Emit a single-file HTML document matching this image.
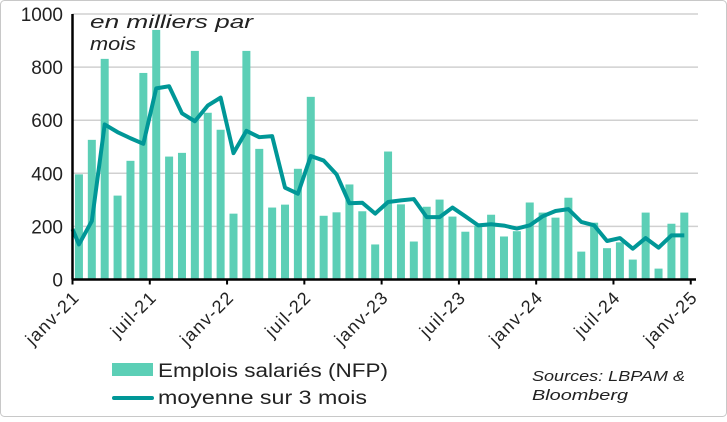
<!DOCTYPE html>
<html><head><meta charset="utf-8"><style>
body{margin:0;background:#fff}
svg text{font-family:"Liberation Sans",sans-serif;fill:#222}
</style></head><body>
<svg width="727" height="417" viewBox="0 0 727 417">
<rect x="0.5" y="0.5" width="726" height="416" rx="4" fill="#fff" stroke="#c8c8c8"/>
<g id="grid"></g><g id="bars"></g><g id="line"></g><g id="axes"></g>
<text x="90" y="28" font-size="18" font-style="italic" textLength="163" lengthAdjust="spacingAndGlyphs">en milliers par</text>
<text x="90" y="50" font-size="18" font-style="italic" textLength="46" lengthAdjust="spacingAndGlyphs">mois</text>
<rect x="112" y="363" width="41" height="13" fill="#5ccfb6"/>
<text x="158" y="377" font-size="19" textLength="230" lengthAdjust="spacingAndGlyphs">Emplois salariés (NFP)</text>
<line x1="114" y1="398" x2="152" y2="398" stroke="#009797" stroke-width="4" stroke-linecap="round"/>
<text x="158" y="404" font-size="19" textLength="209" lengthAdjust="spacingAndGlyphs">moyenne sur 3 mois</text>
<text x="532" y="381" font-size="15" font-style="italic" textLength="153" lengthAdjust="spacingAndGlyphs">Sources: LBPAM &amp;</text>
<text x="532" y="400" font-size="15" font-style="italic" textLength="96" lengthAdjust="spacingAndGlyphs">Bloomberg</text>
</svg>
<script>
const nfp=[396,526,831,316,447,778,940,463,477,861,628,564,248,861,492,271,282,417,688,240,253,358,257,132,482,283,143,274,301,237,180,202,244,162,182,290,252,233,308,105,214,118,140,75,252,41,210,252];
const avg3=[132,220,584,555,532,511,720,728,626,596,655,685,476,560,536,540,346,323,465,448,396,287,289,248,292,298,303,235,235,271,238,204,208,203,192,204,238,258,265,217,204,145,156,116,156,120,166,166];
const avgStart=190;
const yTicks=[0,200,400,600,800,1000];
const xLabels=["janv-21","juil-21","janv-22","juil-22","janv-23","juil-23","janv-24","juil-24","janv-25"];
const NS="http://www.w3.org/2000/svg";
const x0=72.5,mw=12.88,y0=279.5,ys=0.2655;
const X=i=>x0+(i+0.5)*mw, Y=v=>y0-v*ys;
function mk(p,t,a){const e=document.createElementNS(NS,t);for(const k in a)e.setAttribute(k,a[k]);document.getElementById(p).appendChild(e);return e;}
yTicks.forEach(v=>{if(v>0){const g=mk('grid','line',{x1:x0,x2:698,y1:Y(v),y2:Y(v),stroke:'#d0d0d0','stroke-width':1.5});

}
const t=mk('axes','text',{x:63,y:Y(v)+7,'text-anchor':'end','font-size':19});t.textContent=v;

});
nfp.forEach((v,i)=>{const b=mk('bars','rect',{x:X(i)-4,y:Y(v),width:8,height:v*ys,fill:'#5ccfb6'});

});
let d='M'+x0+','+Y(avgStart);avg3.forEach((v,i)=>d+=' L'+X(i)+','+Y(v));
const l=mk('line','path',{d:d,fill:'none',stroke:'#009797','stroke-width':4,'stroke-linejoin':'round'});


const ya=mk('axes','line',{x1:x0,x2:x0,y1:14,y2:y0,stroke:'#000','stroke-width':2.5});


const xa=mk('axes','line',{x1:x0-1,x2:696,y1:y0,y2:y0,stroke:'#000','stroke-width':2.5});


xLabels.forEach((s,k)=>{const tx=x0+k*6*mw;
const tk=mk('axes','line',{x1:tx,x2:tx,y1:y0,y2:y0+5,stroke:'#000','stroke-width':2});


const t=mk('axes','text',{x:tx+8,y:y0+19,'text-anchor':'end','font-size':18,'letter-spacing':1.2,transform:`rotate(-45 ${tx+8} ${y0+19})`});t.textContent=s;

});
</script>
</body></html>
